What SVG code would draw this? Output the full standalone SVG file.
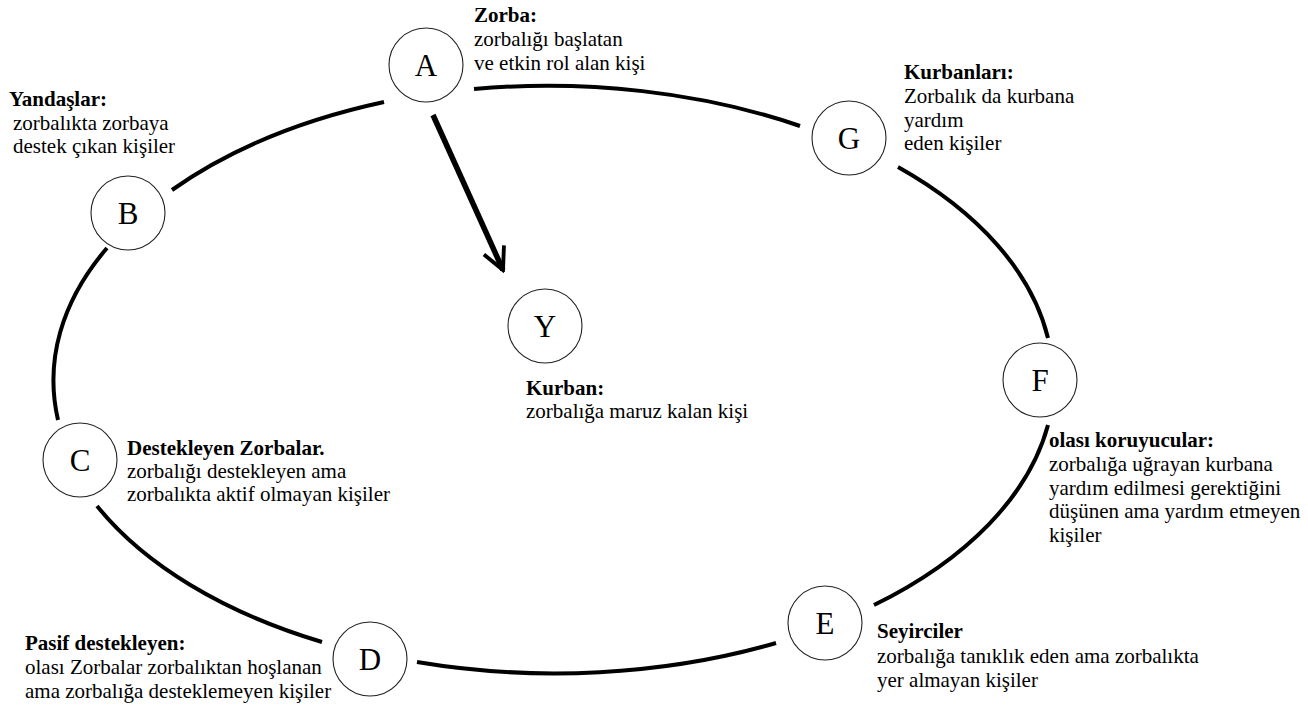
<svg xmlns="http://www.w3.org/2000/svg" width="1308" height="708" viewBox="0 0 1308 708">
<style>
.bg{fill:#fff}
.node circle{fill:#fff;stroke:#222;stroke-width:1.1}
text{font-family:"Times New Roman","Liberation Serif",serif;fill:#000}
.l{font-size:31px;text-anchor:middle}
.t{font-size:21px}
.h{font-size:21px;font-weight:bold}
.arc{fill:none;stroke:#000;stroke-width:4;stroke-linecap:butt}
.arrow{fill:none;stroke:#000;stroke-width:5.5}
</style>
<defs>
<marker id="vhead" viewBox="0 0 10 10" refX="9" refY="5" markerWidth="5" markerHeight="5" markerUnits="strokeWidth" orient="auto">
<path d="M1 1 L9 5 L1 9" fill="none" stroke="#000" stroke-width="1.4"/>
</marker>
</defs>
<rect class="bg" x="0" y="0" width="1308" height="708"/>
<g id="connectors">
<path class="arc" d="M474 89 A500 294 0 0 1 800 126"/>
<path class="arc" d="M898 167 A500 294 0 0 1 1048 338"/>
<path class="arc" d="M1048 425 A500 294 0 0 1 874 605"/>
<path class="arc" d="M776 643 A500 294 0 0 1 417 662"/>
<path class="arc" d="M322 642 A500 294 0 0 1 97 506"/>
<path class="arc" d="M58 420 A500 294 0 0 1 107 248"/>
<path class="arc" d="M172 190 A500 294 0 0 1 384 102"/>
<path class="arrow" d="M433 115 L503 270" marker-end="url(#vhead)"/>
</g>
<g id="node-A" class="node">
<circle cx="426" cy="65" r="37"/>
<text class="l" x="426" y="76">A</text>
<text class="h" x="474" y="22">Zorba:</text>
<text class="t" x="474" y="46">zorbalığı başlatan</text>
<text class="t" x="474" y="70">ve etkin rol alan kişi</text>
</g>
<g id="node-B" class="node">
<circle cx="128" cy="213" r="37"/>
<text class="l" x="128" y="224">B</text>
<text class="h" x="9" y="106">Yandaşlar:</text>
<text class="t" x="13" y="130">zorbalıkta zorbaya</text>
<text class="t" x="13" y="153">destek çıkan kişiler</text>
</g>
<g id="node-C" class="node">
<circle cx="80" cy="460" r="37"/>
<text class="l" x="80" y="471">C</text>
<text class="h" x="127" y="455">Destekleyen Zorbalar.</text>
<text class="t" x="127" y="478">zorbalığı destekleyen ama</text>
<text class="t" x="127" y="501">zorbalıkta aktif olmayan kişiler</text>
</g>
<g id="node-D" class="node">
<circle cx="370" cy="659" r="37"/>
<text class="l" x="370" y="670">D</text>
<text class="h" x="25" y="650">Pasif destekleyen:</text>
<text class="t" x="25" y="674">olası Zorbalar zorbalıktan hoşlanan</text>
<text class="t" x="25" y="698">ama zorbalığa desteklemeyen kişiler</text>
</g>
<g id="node-E" class="node">
<circle cx="825" cy="623" r="37"/>
<text class="l" x="825" y="634">E</text>
<text class="h" x="877" y="638">Seyirciler</text>
<text class="t" x="877" y="663">zorbalığa tanıklık eden ama zorbalıkta</text>
<text class="t" x="877" y="687">yer almayan kişiler</text>
</g>
<g id="node-F" class="node">
<circle cx="1040" cy="380" r="37"/>
<text class="l" x="1040" y="391">F</text>
<text class="h" x="1049" y="447">olası koruyucular:</text>
<text class="t" x="1049" y="471">zorbalığa uğrayan kurbana</text>
<text class="t" x="1049" y="495">yardım edilmesi gerektiğini</text>
<text class="t" x="1049" y="518">düşünen ama yardım etmeyen</text>
<text class="t" x="1049" y="542">kişiler</text>
</g>
<g id="node-G" class="node">
<circle cx="849" cy="138" r="37"/>
<text class="l" x="849" y="149">G</text>
<text class="h" x="904" y="79">Kurbanları:</text>
<text class="t" x="904" y="103">Zorbalık da kurbana</text>
<text class="t" x="904" y="127">yardım</text>
<text class="t" x="904" y="150">eden kişiler</text>
</g>
<g id="node-Y" class="node">
<circle cx="545" cy="326" r="37"/>
<text class="l" x="545" y="337">Y</text>
<text class="h" x="526" y="395">Kurban:</text>
<text class="t" x="526" y="418">zorbalığa maruz kalan kişi</text>
</g>
</svg>
